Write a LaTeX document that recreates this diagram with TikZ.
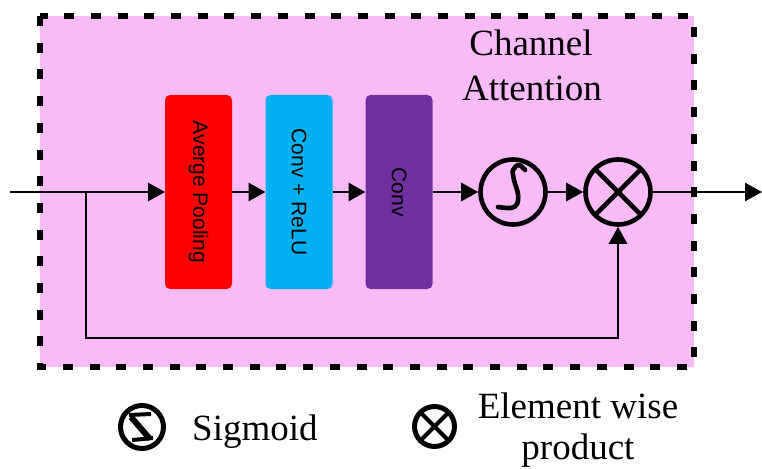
\documentclass[tikz,border=0pt]{standalone}
\usepackage{fontspec}
\setmainfont{Liberation Serif}
\newfontfamily\blkfont{Liberation Sans}
\usetikzlibrary{arrows.meta}
\definecolor{pinkbg}{RGB}{249,187,247}
\definecolor{avgred}{RGB}{255,0,0}
\definecolor{convcyan}{RGB}{0,176,240}
\definecolor{convpurple}{RGB}{112,48,160}
\begin{document}
\begin{tikzpicture}[x=1pt,y=-1pt,
  conn/.style={line width=2.8pt, -{Triangle[length=17pt,width=18pt]}},
  blk/.style={rounded corners=5pt, minimum width=67pt, minimum height=194pt, inner sep=0pt, outer sep=0pt},
  blktext/.style={rotate=-90, font=\blkfont\fontsize{21}{25}\selectfont},
  op/.style={circle, draw, line width=4.6pt, minimum size=65pt, inner sep=0pt},
  lbl/.style={font=\fontsize{37}{44}\selectfont, inner sep=0pt}]
\useasboundingbox (0,0) rectangle (762,468);
% dashed frame
\draw[fill=pinkbg, line width=5.5pt, dash pattern=on 10pt off 16.7pt] (40,16) rectangle (694,367);
% title
\node[lbl, anchor=base] (t1) at (531,56) {Channel};
\node[lbl, anchor=base] (t2) at (532,100) {Attention};
% blocks
\node[blk, fill=avgred] (avg) at (198.5,192) {};
\node[blk, fill=convcyan] (cr) at (299,192) {};
\node[blk, fill=convpurple] (cv) at (399,192) {};
\node[blktext] (avgt) at (avg.center) {Averge Pooling};
\node[blktext] (crt) at (cr.center) {Conv + ReLU};
\node[blktext] (cvt) at (cv.center) {Conv};
% operators
\node[op] (sig) at (513,192) {};
\node[op] (ot) at (618,192) {};
\draw[line width=4.6pt, shorten <=2.3pt, shorten >=2.3pt] (ot.north west) -- (ot.south east);
\draw[line width=4.6pt, shorten <=2.3pt, shorten >=2.3pt] (ot.north east) -- (ot.south west);
\begin{scope}[shift={(sig.center)}]
  \draw[line width=4.6pt, line cap=round, line join=round] plot[smooth, tension=0.6] coordinates {(12,-22) (6,-27) (0,-22) (1,-12) (5,2) (4,12) (-2,16) (-15,15)};
\end{scope}
% connectors
\coordinate (in) at (10,192);
\coordinate (br) at (86,192);
\coordinate (bl) at (86,338);
\coordinate (out) at (762,192);
\draw[conn] (in) -- (avg.west);
\draw[conn] (avg.east) -- (cr.west);
\draw[conn] (cr.east) -- (cv.west);
\draw[conn] (cv.east) -- (sig.west);
\draw[conn] (sig.east) -- (ot.west);
\draw[conn] (ot.east) -- (out);
\draw[conn] (br) -- (bl) -| (ot.south);
% legend
\node[circle, draw, line width=5pt, minimum size=43pt, inner sep=0pt] (lsig) at (142,427) {};
\begin{scope}[shift={(lsig.center)}]
  \draw[line width=6pt] (-11,-10) -- (8,12);
  \draw[line width=4pt] (-13,-12) -- (9,-13);
  \draw[line width=4pt] (-10,13) -- (11,11);
\end{scope}
\node[circle, draw, line width=5pt, minimum size=40pt, inner sep=0pt] (lot) at (434.5,426.5) {};
\draw[line width=4pt, shorten <=2.5pt, shorten >=2.5pt] (lot.north west) -- (lot.south east);
\draw[line width=4pt, shorten <=2.5pt, shorten >=2.5pt] (lot.north east) -- (lot.south west);
\node[lbl, anchor=base west] (sigtxt) at (192,440) {Sigmoid};
\node[lbl, anchor=base] (ew1) at (578,418) {Element wise};
\node[lbl, anchor=base] (ew2) at (578,459) {product};
\end{tikzpicture}
\end{document}
